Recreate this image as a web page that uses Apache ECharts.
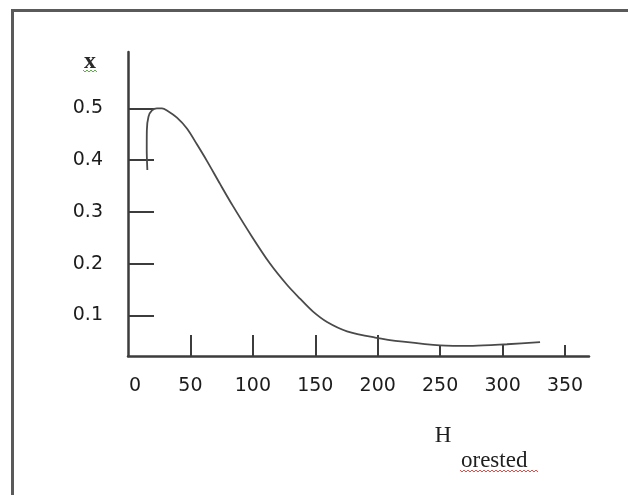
<!DOCTYPE html>
<html>
<head>
<meta charset="utf-8">
<script src="https://cdn.jsdelivr.net/npm/echarts@6/dist/echarts.min.js"></script>
<style>
html,body{margin:0;padding:0;background:#fff;}
#chart{width:628px;height:495px;}
</style>
</head>
<body>
<div id="chart"></div>
<script>
// Curve: H (orested) vs x
var hValues = [15.5, 15.0, 15.1, 16.4, 19.2, 23.2, 27.2, 31.2, 39.2, 47.2, 55.3, 63.3, 73.7, 84.1, 99.3, 113.7, 127.3, 137.8, 148.2, 159.4, 175.4, 197.8, 220.3, 249.9, 276.3, 303.5, 330.0];
var xValues = [0.381, 0.420, 0.458, 0.484, 0.496, 0.500, 0.500, 0.496, 0.482, 0.461, 0.430, 0.398, 0.354, 0.311, 0.252, 0.200, 0.159, 0.132, 0.107, 0.087, 0.069, 0.057, 0.049, 0.042, 0.041, 0.044, 0.048];

// Tick labels
var hTickLabels = [0, 50, 100, 150, 200, 250, 300, 350];
var hLongTicks = [50, 100, 150, 200];
var hShortTicks = [250, 300, 350];
var xTickLabels = [0.1, 0.2, 0.3, 0.4, 0.5];

var points = hValues.map(function (h, i) { return [h, xValues[i]]; });

var chart = echarts.init(document.getElementById('chart'), null, {renderer: 'canvas'});

function squiggle(x0, x1, y, color) {
  var pts = [];
  var up = true;
  for (var x = x0; x <= x1; x += 2) { pts.push([x, up ? y : y + 2]); up = !up; }
  return {type: 'polyline', shape: {points: pts}, style: {stroke: color, lineWidth: 1, fill: null}, silent: true};
}

var axisColor = '#3c3c3c';
var labelFont = {fontFamily: 'DejaVu Sans', fontSize: 19, color: '#1c1c1c'};

chart.setOption({
  animation: false,
  backgroundColor: '#ffffff',
  grid: {left: 128, right: 39, top: 52, bottom: 139, containLabel: false},
  xAxis: [{
    type: 'value', min: 0, max: 369.2,
    axisLine: {show: true, lineStyle: {color: axisColor, width: 2.5}},
    axisTick: {show: true, inside: true, length: 21, customValues: hLongTicks, lineStyle: {color: axisColor, width: 2}},
    axisLabel: {
      show: true, customValues: hTickLabels, margin: 21,
      fontFamily: labelFont.fontFamily, fontSize: labelFont.fontSize, color: labelFont.color,
      formatter: function (v) { return v === 0 ? '{z|0}' : String(v); },
      rich: {z: {fontFamily: labelFont.fontFamily, fontSize: labelFont.fontSize, color: labelFont.color, padding: [0, 0, 0, 14]}}
    },
    splitLine: {show: false}
  }, {
    type: 'value', min: 0, max: 369.2, position: 'bottom',
    axisLine: {show: false},
    axisTick: {show: true, inside: true, length: 11, customValues: hShortTicks, lineStyle: {color: axisColor, width: 2}},
    axisLabel: {show: false},
    splitLine: {show: false}
  }],
  yAxis: {
    type: 'value', min: 0.0213, max: 0.609,
    axisLine: {show: true, lineStyle: {color: axisColor, width: 2.5}},
    axisTick: {show: true, inside: true, length: 26, customValues: xTickLabels, lineStyle: {color: axisColor, width: 2}},
    axisLabel: {
      show: true, customValues: xTickLabels, margin: 25,
      fontFamily: labelFont.fontFamily, fontSize: labelFont.fontSize, color: labelFont.color,
      formatter: function (v) { return String(v); }
    },
    splitLine: {show: false}
  },
  series: [{
    type: 'line', xAxisIndex: 0, data: points, smooth: 0.3, symbol: 'none',
    lineStyle: {color: '#4a4a4a', width: 1.8}
  }],
  graphic: [
    {type: 'rect', shape: {x: 12.5, y: 10.5, width: 700, height: 600}, style: {stroke: '#5a5a5a', lineWidth: 3, fill: null}, silent: true},
    {type: 'text', x: 90, y: 62, style: {text: 'x', fontFamily: 'Liberation Serif', fontSize: 24, fontWeight: 'bold', fill: '#2a2a2a', align: 'center', verticalAlign: 'middle'}},
    squiggle(83, 97, 70, '#5fae4a'),
    {type: 'text', x: 443, y: 436, style: {text: 'H', fontFamily: 'Liberation Serif', fontSize: 23, fill: '#1e1e1e', align: 'center', verticalAlign: 'middle'}},
    {type: 'text', x: 461, y: 461, style: {text: 'orested', fontFamily: 'Liberation Serif', fontSize: 23, fill: '#1e1e1e', align: 'left', verticalAlign: 'middle'}},
    squiggle(460, 538, 470, '#d9534f')
  ]
});
</script>
</body>
</html>
